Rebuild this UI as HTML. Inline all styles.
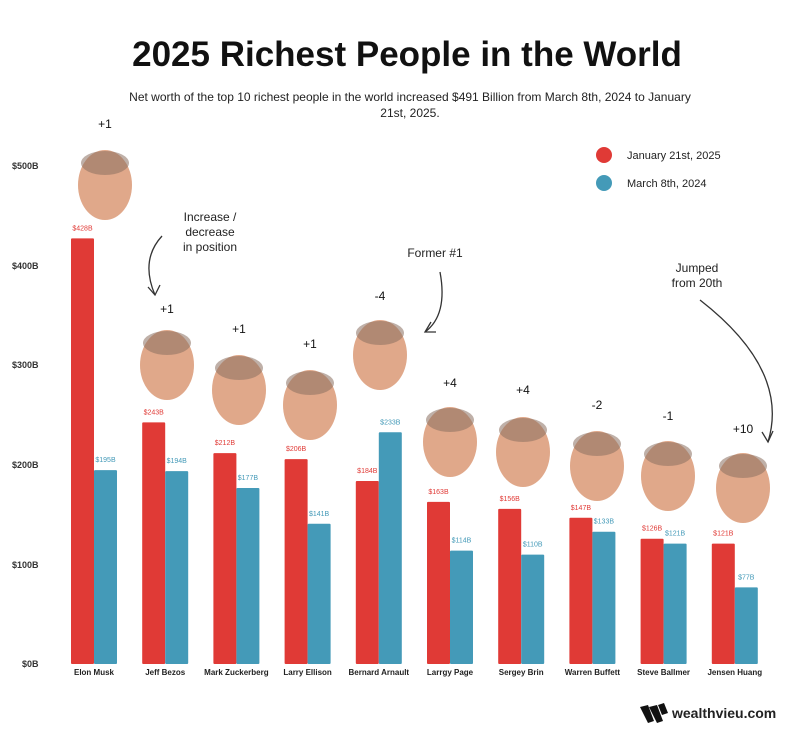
<!DOCTYPE html>
<html><head><meta charset="utf-8"><style>
body{margin:0;background:#fff;}
svg{display:block;font-family:"Liberation Sans",sans-serif;}
</style></head><body>
<svg width="800" height="738" viewBox="0 0 800 738">
<rect width="800" height="738" fill="#fff"/>
<text x="407" y="66" text-anchor="middle" font-size="35" font-weight="bold" fill="#111">2025 Richest People in the World</text>
<text x="410" y="101" text-anchor="middle" font-size="12" fill="#222">Net worth of the top 10 richest people in the world increased $491 Billion from March 8th, 2024 to January</text>
<text x="410" y="117" text-anchor="middle" font-size="12" fill="#222">21st, 2025.</text>
<g font-size="9" font-weight="bold" fill="#333">
<text x="12" y="169">$500B</text><text x="12" y="269">$400B</text><text x="12" y="368">$300B</text>
<text x="12" y="468">$200B</text><text x="12" y="568">$100B</text><text x="22" y="667">$0B</text>
</g>
<circle cx="604" cy="155" r="8" fill="#e03a36"/><text x="627" y="159" font-size="11" fill="#222">January 21st, 2025</text>
<circle cx="604" cy="183" r="8" fill="#449ab8"/><text x="627" y="187" font-size="11" fill="#222">March 8th, 2024</text>
<g id="bars"></g>
<g font-size="12" fill="#222" text-anchor="middle">
<text x="210" y="221">Increase /</text><text x="210" y="236">decrease</text><text x="210" y="251">in position</text>
<text x="435" y="257">Former #1</text>
<text x="697" y="272">Jumped</text><text x="697" y="287">from 20th</text>
</g>
<g fill="none" stroke="#333" stroke-width="1.3">
<path d="M162 236 Q140 260 155 295"/><path d="M148 287 L155 295 L160 285"/>
<path d="M440 272 Q448 315 425 332"/><path d="M431 322 L425 332 L436 332"/>
<path d="M700 300 Q790 370 768 442"/><path d="M762 432 L768 442 L773 431"/>
</g>
<g transform="translate(640 705)" fill="#111"><path d="M0 2 L8 0 L14 16 L8 18Z M9 2 L17 0 L23 16 L17 18Z M18 0 L24 -2 L28 8 L22 10Z"/></g>
<text x="672" y="718" font-size="14" font-weight="bold" fill="#222">wealthvieu.com</text>
</svg>
<script>
var d=[["Elon Musk",428,195,"+1",105,185,128],["Jeff Bezos",243,194,"+1",167,365,313],["Mark Zuckerberg",212,177,"+1",239,390,333],["Larry Ellison",206,141,"+1",310,405,348],["Bernard Arnault",184,233,"-4",380,355,300],["Larrgy Page",163,114,"+4",450,442,387],["Sergey Brin",156,110,"+4",523,452,394],["Warren Buffett",147,133,"-2",597,466,409],["Steve Ballmer",126,121,"-1",668,476,420],["Jensen Huang",121,77,"+10",743,488,433]];
var s="",b=664,k=0.9945;
d.forEach(function(r,i){var x=71+i*71.2,hr=r[1]*k,hb=r[2]*k;
s+='<rect x="'+x+'" y="'+(b-hr)+'" width="23" height="'+hr+'" fill="#e03a36" rx="1"/>';
s+='<rect x="'+(x+23)+'" y="'+(b-hb)+'" width="23" height="'+hb+'" fill="#449ab8" rx="1"/>';
s+='<text x="'+(x+11.5)+'" y="'+(b-hr-8)+'" font-size="7" fill="#e03a36" text-anchor="middle">$'+r[1]+'B</text>';
s+='<text x="'+(x+34.5)+'" y="'+(b-hb-8)+'" font-size="7" fill="#449ab8" text-anchor="middle">$'+r[2]+'B</text>';
s+='<text x="'+(x+23)+'" y="675" font-size="8" font-weight="bold" fill="#222" text-anchor="middle">'+r[0]+'</text>';
s+='<ellipse cx="'+r[4]+'" cy="'+r[5]+'" rx="27" ry="35" fill="#e0a88a"/>';
s+='<ellipse cx="'+r[4]+'" cy="'+(r[5]-22)+'" rx="24" ry="12" fill="#8a7060" opacity="0.55"/>';
s+='<text x="'+r[4]+'" y="'+r[6]+'" font-size="12" fill="#111" text-anchor="middle">'+r[3]+'</text>';});
document.getElementById("bars").innerHTML=s;
</script>
</body></html>
